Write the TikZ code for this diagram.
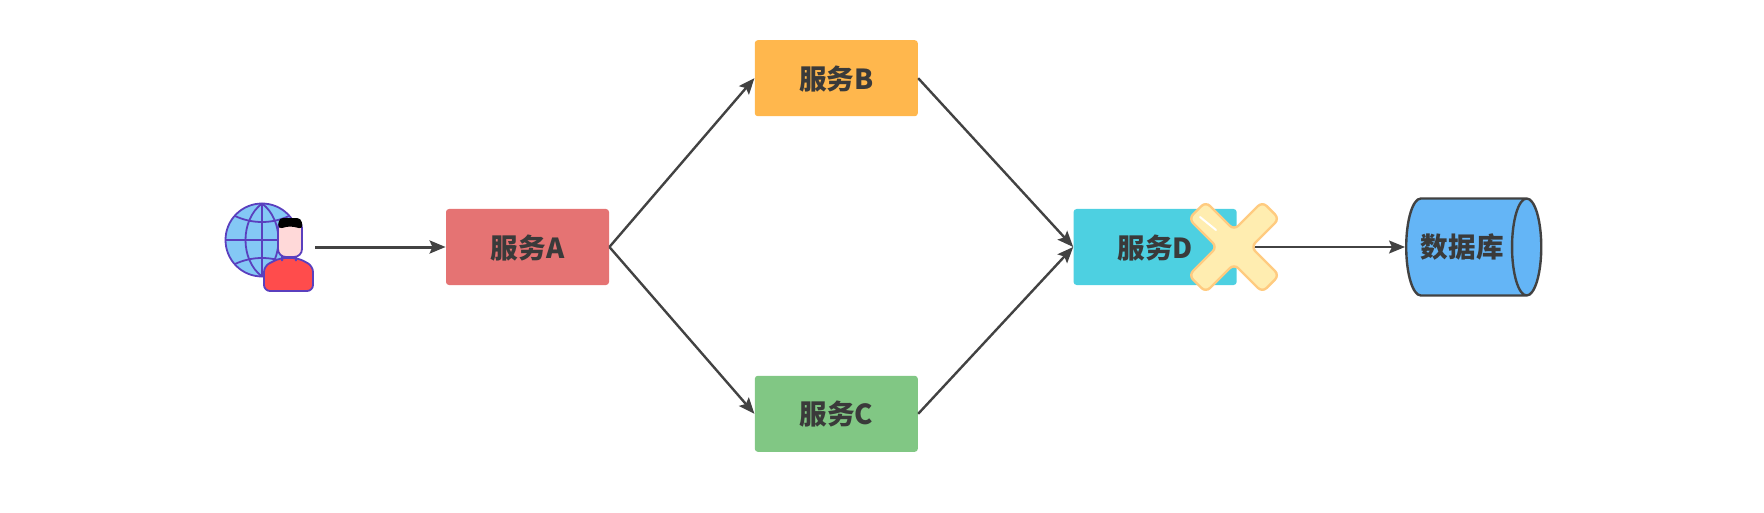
\documentclass[tikz,border=0pt]{standalone}
\usepackage{fontspec}
\setmainfont{Noto Sans CJK SC}
\usepackage{tikz}
\usetikzlibrary{shapes.geometric, arrows.meta, positioning}
\definecolor{textgray}{HTML}{3A3A3A}
\definecolor{linegray}{HTML}{424242}
\definecolor{iconline}{HTML}{5A3FBE}
\definecolor{servicered}{HTML}{E57373}
\definecolor{serviceorange}{HTML}{FFB74D}
\definecolor{servicegreen}{HTML}{81C784}
\definecolor{servicecyan}{HTML}{4DD0E1}
\definecolor{dbblue}{HTML}{64B5F6}
\definecolor{globeblue}{HTML}{84C8F5}
\definecolor{crossedge}{HTML}{FFCB80}
\definecolor{crossfill}{HTML}{FFEDB0}
\tikzset{
    service/.style={rectangle, rounded corners=1.5pt, text=textgray, font=\bfseries\fontsize{13.8}{14}\selectfont, align=center, minimum width=81.5pt, minimum height=38pt, inner sep=0pt, text height=12.5pt, text depth=1.5pt},
    arrow/.style={draw=linegray, line width=1.2pt, -{Stealth[length=8pt, width=6.5pt, inset=1.5pt]}},
    database/.style={cylinder, draw=linegray, line width=1.2pt, fill=dbblue, shape aspect=1.1, text=textgray, font=\bfseries\fontsize{13.8}{14}\selectfont, minimum width=48.5pt, minimum height=63.2pt, inner sep=0pt},
    crossmark/.style={draw=crossedge, fill=crossfill, line width=1.2pt, rounded corners=3pt},
    icon/.style={draw=iconline, line width=0.9pt}
}

\begin{document}
\begin{tikzpicture}[x=0.5pt, y=-0.5pt]
            \useasboundingbox (0,0) rectangle (1764,513);

            \node[minimum width=45pt, minimum height=44pt, inner sep=0pt] (user) at (270,247) {};
            \node[service, fill=servicered] (a) at (527.5,247) {服务A};
            \node[service, fill=serviceorange, above right=46pt and 72.5pt of a] (b) {服务B};
            \node[service, fill=servicegreen, below right=45pt and 72.5pt of a] (c) {服务C};
            \node[service, fill=servicecyan, below right=46pt and 77.5pt of b] (d) {服务D};
            \node[database, right=84pt of d] (db) {数据库\hspace*{3.6pt}};

            % user icon
            \draw[icon, fill=globeblue] (262,240) circle (36.5);
            \draw[icon] (226,240) -- (298,240) (262,203.5) -- (262,276.5)
                (262,203.5) .. controls (240,220) and (240,260) .. (262,276.5)
                (262,203.5) .. controls (284,220) and (284,260) .. (262,276.5)
                (235,216) .. controls (252,224) and (272,224) .. (289,216)
                (235,264) .. controls (252,256) and (272,256) .. (289,264);
            \draw[icon, fill=red!70!white, rounded corners=3pt] (264,291) -- (264,266) -- (280,258) -- (298,258) -- (313,266) -- (313,291) -- cycle;
            \draw[icon, fill=red!15!white] (282,252) -- (296,252) -- (296,261) arc (360:180:7) -- cycle;
            \draw[icon, fill=red!15!white, rounded corners=4pt] (278,220) rectangle (302,257);
            \fill[black, rounded corners=2pt] (278,229) -- (279,218) -- (301,218) -- (303,229) -- (290,226) -- cycle;

            \path[arrow, line width=1.5pt] (user) -- (a);
            \path[arrow] (a.east) -- (b.west);
            \path[arrow] (a.east) -- (c.west);
            \path[arrow] (b.east) -- (d.west);
            \path[arrow] (c.east) -- (d.west);
            \path[arrow, line width=1pt] (d.east) -- (db.west);

            % cross over D
            \coordinate (mark) at (1234,247);
            \draw[crossmark, shift={(mark)}, rotate=45] (-12,-52) -- (12,-52) -- (12,-12) -- (52,-12) -- (52,12) -- (12,12) -- (12,52) -- (-12,52) -- (-12,12) -- (-52,12) -- (-52,-12) -- (-12,-12) -- cycle;
            \draw[white, line width=1pt, line cap=round] ([shift={(-34,-30)}]mark) -- ([shift={(-18,-17)}]mark);
        \end{tikzpicture}
\end{document}
